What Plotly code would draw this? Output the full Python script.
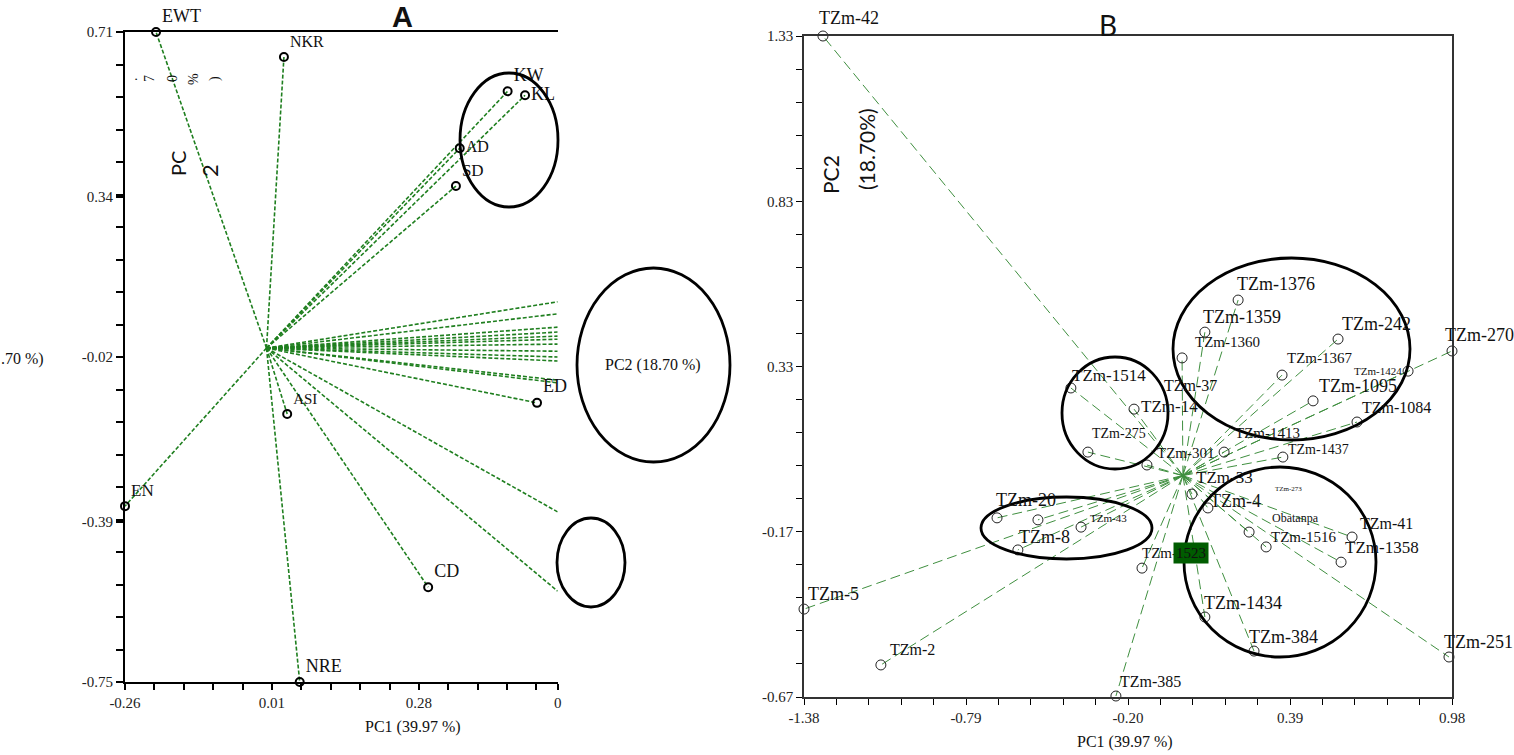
import plotly.graph_objects as go

W, H = 1514, 755

# ---------------- Panel A : trait loadings ----------------
a_traits = ["EWT", "NKR", "KW", "KL", "AD", "SD", "ASI", "ED", "EN", "CD", "NRE"]
a_pc1 = [-0.203, 0.032, 0.443, 0.475, 0.355, 0.348, 0.038, 0.497, -0.260, 0.297, 0.061]
a_pc2 = [0.710, 0.654, 0.577, 0.568, 0.449, 0.364, -0.148, -0.123, -0.355, -0.537, -0.750]
# vectors that run off the right edge of panel A (their labels are cut off)
a_off_pc1 = [0.535, 0.535, 0.535, 0.535, 0.535, 0.535, 0.535, 0.535, 0.535, 0.535, 0.535, 0.535, 0.535, 0.535]
a_off_pc2 = [0.104, 0.077, 0.047, 0.036, 0.027, 0.020, 0.009, -0.007, -0.020, -0.029, -0.072, -0.078, -0.368, -0.546]
a_xticks = [-0.26, 0.01, 0.28, 0.535]
a_xticktext = ["-0.26", "0.01", "0.28", "0"]
a_yticks = [0.71, 0.34, -0.02, -0.39, -0.75]
a_yticktext = ["0.71", "0.34", "-0.02", "-0.39", "-0.75"]

# ---------------- Panel B : genotype scores ----------------
b_geno = ["TZm-42", "TZm-1376", "TZm-1359", "TZm-1360", "TZm-242", "TZm-1367", "TZm-1424",
          "TZm-270", "TZm-1095", "TZm-1084", "TZm-1437", "TZm-1413", "TZm-1514", "TZm-14",
          "TZm-275", "TZm-301", "TZm-33", "TZm-4", "Obatanpa", "TZm-1516", "TZm-41",
          "TZm-1358", "TZm-1523", "TZm-1434", "TZm-384", "TZm-385", "TZm-251", "TZm-5",
          "TZm-2", "TZm-20", "", "TZm-8", "TZm-43"]
b_pc1 = [-1.311, 0.201, 0.080, -0.003, 0.565, 0.361, 0.820,
         0.980, 0.474, 0.634, 0.364, 0.150, -0.408, -0.178,
         -0.346, -0.131, 0.033, 0.091, 0.241, 0.303, 0.616,
         0.576, -0.149, 0.080, 0.259, -0.244, 0.969, -1.380,
         -1.100, -0.677, -0.528, -0.601, -0.371]
b_pc2 = [1.330, 0.531, 0.434, 0.356, 0.413, 0.304, 0.316,
         0.377, 0.226, 0.162, 0.056, 0.071, 0.265, 0.201,
         0.071, 0.032, -0.056, -0.098, -0.171, -0.216, -0.186,
         -0.262, -0.280, -0.428, -0.531, -0.667, -0.549, -0.404,
         -0.573, -0.128, -0.134, -0.225, -0.156]
# labels printed without a visible marker
b_textonly = ["TZm-37", "TZm-273"]
b_textonly_pc1 = [0.026, 0.386]
b_textonly_pc2 = [0.271, -0.041]
b_xticks = [-1.38, -0.79, -0.20, 0.39, 0.98]
b_xticktext = ["-1.38", "-0.79", "-0.20", "0.39", "0.98"]
b_yticks = [1.33, 0.83, 0.33, -0.17, -0.67]
b_yticktext = ["1.33", "0.83", "0.33", "-0.17", "-0.67"]

# ---------------- styles ----------------
SERIF = "Liberation Serif"
SANS = "Liberation Sans"
CAL = "Lato"

a_textpos = ["top right", "top right", "top right", "middle right", "middle right", "top right",
             "top right", "top right", "top right", "top right", "top right"]
a_textsize = [18, 16, 18, 18, 16, 17, 15, 18, 17, 18, 18]

# label size / offset (pixels) of each genotype label relative to its marker
b_textsize = [18, 18, 18, 15, 18, 15, 11,
              18, 18, 16, 14, 15, 17, 17,
              14, 15, 17, 18, 12, 15, 16,
              17, 15, 18, 18, 16, 18, 18,
              16, 18, 12, 18, 11]
b_dx = [-6, -3, -4, 11, 2, 3, -4,
        -9, 4, 3, 3, 9, -1, 5,
        2, 8, 2, 0, 21, 3, 6,
        2, -2, -3, -7, 2, -7, 2,
        7, -3, 0, -1, 7]
b_dy = [18, 16, 15, 16, 15, 17, 0,
        16, 15, 15, 8, 19, 12, 3,
        19, 12, 17, 7, 14, 10, 14,
        15, 15, 14, 14, 15, 15, 15,
        15, 18, 0, 13, 9]
b_anchor = ["left"] * len(b_geno)
b_anchor[b_geno.index("TZm-1424")] = "right"
b_textonly_size = [16, 7]


def px_x(p):
    return p / W


def px_y(p):
    return 1 - p / H


def rays(xs, ys):
    lx, ly = [], []
    for x, y in zip(xs, ys):
        lx += [0, x, None]
        ly += [0, y, None]
    return lx, ly


fig = go.Figure()

# Panel A rays
ax_l, ay_l = rays(a_pc1 + a_off_pc1, a_pc2 + a_off_pc2)
fig.add_trace(go.Scatter(x=ax_l, y=ay_l, mode="lines", xaxis="x", yaxis="y",
                         line=dict(color="#1f7f1f", width=1.6, dash="4px,2px"),
                         hoverinfo="skip"))
fig.add_trace(go.Scatter(x=a_pc1, y=a_pc2, mode="markers+text", xaxis="x", yaxis="y",
                         text=a_traits, textposition=a_textpos,
                         textfont=dict(family=SERIF, size=a_textsize, color="#111"),
                         marker=dict(symbol="circle-open", size=8, color="black",
                                     line=dict(width=2, color="black")),
                         cliponaxis=False))

# Panel B rays and markers
bx_l, by_l = rays(b_pc1, b_pc2)
fig.add_trace(go.Scatter(x=bx_l, y=by_l, mode="lines", xaxis="x2", yaxis="y2",
                         line=dict(color="#3f8f3f", width=1, dash="10px,5px"),
                         hoverinfo="skip"))
fig.add_trace(go.Scatter(x=b_pc1, y=b_pc2, mode="markers", xaxis="x2", yaxis="y2",
                         marker=dict(symbol="circle-open", size=10, color="#222",
                                     line=dict(width=1, color="#222")),
                         cliponaxis=False))

axis_common = dict(showgrid=False, zeroline=False, showline=True, ticks="outside",
                   tickcolor="black", tickfont=dict(family=SERIF, size=15, color="#222"))

fig.update_layout(
    template="none",
    width=W, height=H, autosize=False,
    margin=dict(l=0, r=0, t=0, b=0),
    paper_bgcolor="white", plot_bgcolor="white",
    showlegend=False,
    xaxis=dict(domain=[px_x(125), px_x(557.7)], range=[-0.26, 0.535], anchor="y",
               tickmode="array", tickvals=a_xticks, ticktext=a_xticktext,
               linecolor="black", linewidth=2, mirror=True, ticklen=6, tickwidth=1.5,
               minor=dict(tickmode="linear", tick0=-0.26, dtick=0.054, ticks="outside",
                          ticklen=6, tickwidth=1.5, tickcolor="black"),
               automargin=False, **axis_common),
    yaxis=dict(domain=[px_y(682), px_y(32)], range=[-0.75, 0.71], anchor="x",
               tickmode="array", tickvals=a_yticks, ticktext=a_yticktext,
               linecolor="black", linewidth=2, mirror=False, ticklen=7, tickwidth=1.5,
               minor=dict(tickmode="linear", tick0=-0.75, dtick=0.073, ticks="outside",
                          ticklen=7, tickwidth=1.5, tickcolor="black"),
               automargin=False, **axis_common),
    xaxis2=dict(domain=[px_x(804), px_x(1452)], range=[-1.38, 0.98], anchor="y2",
                tickmode="array", tickvals=b_xticks, ticktext=b_xticktext,
                linecolor="#333", linewidth=1.5, mirror=True, ticklen=6, tickwidth=1.2,
                minor=dict(tickmode="linear", tick0=-1.38, dtick=0.118, ticks="outside",
                           ticklen=6, tickwidth=1.2, tickcolor="black"),
                automargin=False, **axis_common),
    yaxis2=dict(domain=[px_y(697), px_y(36)], range=[-0.67, 1.33], anchor="x2",
                tickmode="array", tickvals=b_yticks, ticktext=b_yticktext,
                linecolor="#333", linewidth=1.5, mirror=True, ticklen=6, tickwidth=1.2,
                minor=dict(tickmode="linear", tick0=-0.67, dtick=0.1, ticks="outside",
                           ticklen=6, tickwidth=1.2, tickcolor="black"),
                automargin=False, **axis_common),
)

# genotype labels, anchored on each genotype's score
for g, x, y, s, dx, dy, anc in zip(b_geno, b_pc1, b_pc2, b_textsize, b_dx, b_dy, b_anchor):
    if not g:
        continue
    if g == "TZm-1523":
        fig.add_annotation(text="TZm-", x=x, y=y, xref="x2", yref="y2", showarrow=False,
                           xanchor="left", yanchor="middle", xshift=dx, yshift=dy,
                           font=dict(family=SERIF, size=s, color="#111"))
        fig.add_annotation(text="1523", x=x, y=y, xref="x2", yref="y2", showarrow=False,
                           xanchor="left", yanchor="middle", xshift=dx + 33, yshift=dy,
                           bgcolor="#005c00", borderpad=2,
                           font=dict(family=SERIF, size=s, color="#111"))
        continue
    fig.add_annotation(text=g, x=x, y=y, xref="x2", yref="y2", showarrow=False,
                       xanchor=anc, yanchor="middle", xshift=dx, yshift=dy,
                       font=dict(family=SERIF, size=s, color="#111"))
for g, x, y, s in zip(b_textonly, b_textonly_pc1, b_textonly_pc2, b_textonly_size):
    fig.add_annotation(text=g, x=x, y=y, xref="x2", yref="y2", showarrow=False,
                       xanchor="center", yanchor="middle",
                       font=dict(family=SERIF, size=s, color="#111"))

# ellipses (paper coordinates from the picture layout)
ellipses = [
    (460, 73, 558, 207), (577, 268, 730, 462), (557, 518, 625, 607),     # panel A
    (1173, 258, 1410, 440), (1062, 357, 1168, 469), (981, 497, 1152, 559),
    (1184, 467, 1376, 657),                                              # panel B
]
for x0, y0, x1, y1 in ellipses:
    fig.add_shape(type="circle", xref="paper", yref="paper",
                  x0=px_x(x0), x1=px_x(x1), y0=px_y(y1), y1=px_y(y0),
                  line=dict(color="black", width=2.8), fillcolor="rgba(0,0,0,0)")


def ann(text, x, y, family=SERIF, size=15, angle=0, **kw):
    fig.add_annotation(text=text, x=px_x(x), y=px_y(y), xref="paper", yref="paper",
                       showarrow=False, textangle=angle, xanchor="center", yanchor="middle",
                       font=dict(family=family, size=size, color="#111"), **kw)


ann("<b>A</b>", 402, 17, family=SANS, size=29)
ann("B", 1108, 25, family=CAL, size=28)
ann("PC1 (39.97 %)", 413, 727, size=16)
ann("PC1 (39.97 %)", 1125, 742, size=16)
ann(".70 %)", 22, 359, size=16)
ann("PC2 (18.70 %)", 653, 365, size=16)
for ch, xx in zip([".", "7", "0", "%", ")"], [132, 149, 172, 193, 215]):
    ann(ch, xx, 79, size=14, angle=-90)
ann("PC", 178, 164, family=CAL, size=20, angle=-90)
ann("2", 210, 171, family=CAL, size=22, angle=-90)
ann("PC2", 831, 175, family=CAL, size=21, angle=-90)
ann("(18.70%)", 867, 149, family=CAL, size=21, angle=-90)

fig.write_html("out.html", config={"displayModeBar": False},
               post_script="document.body.style.margin='0';document.body.style.overflow='hidden';")
